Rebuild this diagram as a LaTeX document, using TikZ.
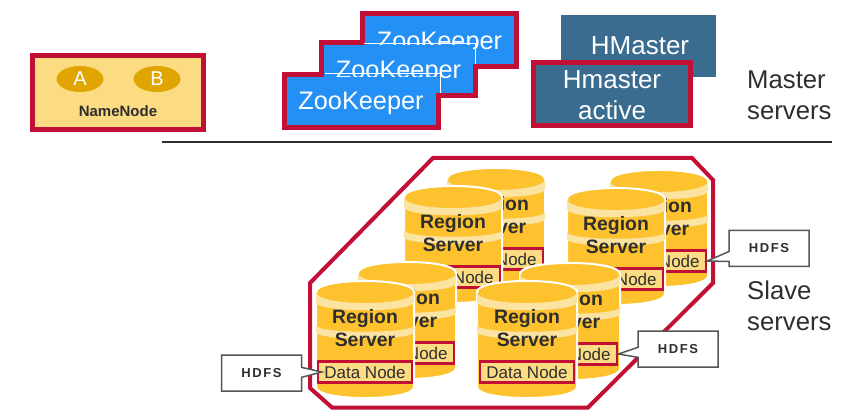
\documentclass[tikz,border=0pt]{standalone}
\usepackage{xcolor}
\usepackage{fontspec}
\setmainfont{Liberation Sans}
\newfontfamily\spacedfont[LetterSpace=12]{Liberation Sans}
\usepackage{tikz}
\usetikzlibrary{shapes.callouts,shapes.geometric}
\definecolor{crimson}{HTML}{C20F35}
\definecolor{gold}{HTML}{FDC22D}
\definecolor{pale}{HTML}{FBE3A2}
\definecolor{namebg}{HTML}{FBDC82}
\definecolor{ovalbg}{HTML}{E0A500}
\definecolor{zoo}{HTML}{2490F5}
\definecolor{hm}{HTML}{3A6C90}
\definecolor{ink}{HTML}{2E2E2E}
\definecolor{box}{HTML}{555555}
\tikzset{
  redbox/.style={draw=crimson, line width=5pt, inner sep=0pt},
  oval/.style={ellipse, fill=ovalbg, text=white, inner sep=0pt, minimum width=47pt, minimum height=26pt, font=\fontsize{20}{24}\selectfont},
  zoored/.style={fill=crimson, minimum width=159pt, minimum height=58pt, inner sep=0pt},
  zoofill/.style={fill=zoo, minimum width=149pt, minimum height=48pt, inner sep=0pt},
  zootext/.style={text=white, inner sep=0pt, font=\fontsize{25.3}{30}\selectfont},
  zooline/.style={draw=white, line width=1pt},
  hmtext/.style={text=white, align=center, font=\fontsize{26}{31}\selectfont},
  side/.style={text=ink, align=left, anchor=base west, inner sep=0pt, font=\fontsize{25.7}{31}\selectfont},
  hull/.style={draw=crimson, line width=4pt, line join=miter},
  disk/.style={fill=gold, draw=white, line width=2pt},
  band/.style={fill=pale},
  rsname/.style={text=ink, align=center, inner sep=0pt, font=\bfseries\fontsize{19.4}{23}\selectfont},
  datanode/.style={draw=crimson, fill=namebg, line width=2.5pt, inner sep=0pt, minimum height=21pt, text=ink, font=\fontsize{17}{20}\selectfont},
  hdfs/.style={rectangle callout, draw=box, fill=white, line width=1.5pt, minimum width=80pt, minimum height=36pt, inner sep=0pt, callout pointer width=10pt, text=ink, font=\bfseries\spacedfont\fontsize{13}{15}\selectfont},
}
\begin{document}
\begin{tikzpicture}[x=1pt,y=-1pt]
  \useasboundingbox (0,0) rectangle (866,419);

  % name node
  \node[redbox, fill=namebg, minimum width=171pt, minimum height=74pt] (namenode) at (118,92.5) {};
  \node[oval] (ovalA) at (80,79) {A};
  \node[oval] (ovalB) at (157,79) {B};
  \node[text=ink, font=\bfseries\fontsize{15}{18}\selectfont] (nnlabel) at (118,111) {NameNode};

  % zookeepers: red outlines first, then the blue faces
  \foreach \n/\cx/\cy in {C/439.5/40.5,B/398.5/69.5,A/361/101}{
    \node[zoored] (zred\n) at (\cx,\cy) {};
  }
  \foreach \n/\cx/\cy in {C/439.5/40.5,B/398.5/69.5,A/361/101}{
    \node[zoofill] (zoo\n) at (\cx,\cy) {};
    \node[zootext, anchor=base, yshift=-9pt] (ztext\n) at (zoo\n.center) {ZooKeeper};
  }
  \draw[zooline] (364,44) -- (475,44) -- (475,64);
  \draw[zooline] (325,74) -- (440,74) -- (440,93);

  % hmasters
  \node[fill=hm, minimum width=155pt, minimum height=62pt, inner sep=0pt] (hmaster) at (638.5,46) {};
  \node[hmtext, anchor=base, inner sep=0pt] (hmtext) at (640,55) {HMaster};
  \node[redbox, fill=hm, minimum width=157pt, minimum height=63pt] (active) at (612,94) {};
  \node[hmtext, anchor=base, inner sep=0pt] (activeA) at (612,89) {Hmaster};
  \node[hmtext, anchor=base, inner sep=0pt] (activeB) at (612,120) {active};

  \node[side] (masterA) at (747,89) {Master};
  \node[side] (masterB) at (747,120) {servers};

  % divider
  \draw[draw=ink, line width=2pt] (162,142.5) -- (832,142.5);

  % hull round the slaves
  \draw[hull] (433,158) -- (692,158) -- (713,180) -- (713,283) -- (588,407.5) -- (332,407.5) -- (310,388) -- (310,283) -- cycle;

  % region servers, back to front
  \foreach \n/\cx/\ty/\r in {d/496/168/49,c/453/186/49,h/659/170/49,g/616/188/49,b/407/262/49,a/365/281/49,f/570/263/50,e/527/281/50}{
    \begin{scope}[shift={(\cx,\ty)}]
      \draw[disk] (-\r,11) -- (-\r,106) .. controls (-\r,120.7) and (\r,120.7) .. (\r,106) -- (\r,11)
        .. controls (\r,-3.7) and (-\r,-3.7) .. cycle;
      \fill[band] (-\r,11) .. controls (-\r,25.7) and (\r,25.7) .. (\r,11) -- (\r,21)
        .. controls (\r,32) and (-\r,32) .. (-\r,21) -- cycle;
      \fill[band] (-\r,44) .. controls (-\r,53) and (\r,53) .. (\r,44) -- (\r,51)
        .. controls (\r,60) and (-\r,60) .. (-\r,51) -- cycle;
      \node[rsname] (rs\n) at (0,47) {Region\\Server};
      \node[datanode, minimum width=94pt] (dn\n) at (0,91) {Data Node};
    \end{scope}
  }

  % callouts
  \node[hdfs, callout absolute pointer={([xshift=5pt]dna.west)}] (hdfsA) at (261.5,373) {HDFS};
  \node[hdfs, callout absolute pointer={(dnf.east)}] (hdfsB) at (678,349) {HDFS};
  \node[hdfs, callout absolute pointer={(dnh.east)}] (hdfsC) at (769,248.5) {HDFS};

  \node[side] (slaveA) at (747,299) {Slave};
  \node[side] (slaveB) at (747,330) {servers};
\end{tikzpicture}
\end{document}
